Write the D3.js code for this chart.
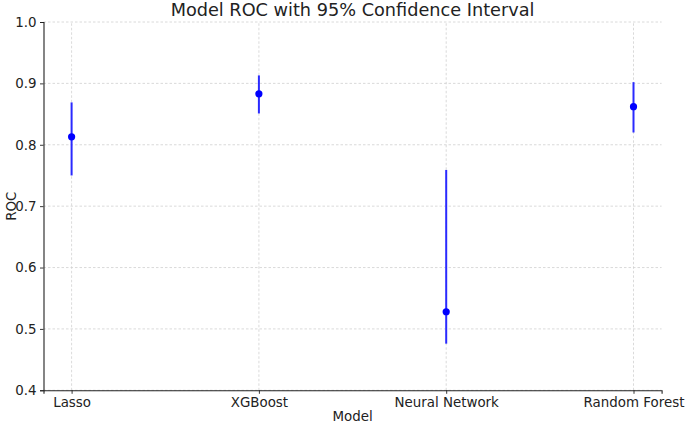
<!DOCTYPE html>
<html>
<head>
<meta charset="utf-8">
<script src="https://cdn.jsdelivr.net/npm/d3@7"></script>
<style>
html,body{margin:0;padding:0;background:#fff;}
svg{display:block;font-family:"DejaVu Sans",sans-serif;}
</style>
</head>
<body>
<svg id="chart" width="685" height="424"></svg>
<script>
const models = ["Lasso", "XGBoost", "Neural Network", "Random Forest"];
const rocValues = [0.813, 0.883, 0.528, 0.862];
const ciLower = [0.750, 0.851, 0.476, 0.820];
const ciUpper = [0.869, 0.913, 0.759, 0.902];
const yTicks = [0.4, 0.5, 0.6, 0.7, 0.8, 0.9, 1.0];

const svg = d3.select("#chart");
const margin = {left: 43.5, right: 23.4, top: 22, bottom: 33.7};
const W = 685, H = 424;
const x0 = margin.left, x1 = W - margin.right, y0 = H - margin.bottom, y1 = margin.top;

const x = d3.scaleLinear().domain([-0.15, models.length - 1 + 0.15]).range([x0, x1]);
const y = d3.scaleLinear().domain([0.4, 1.0]).range([y0, y1]);

// grid
const g = svg.append("g");
g.selectAll(".hg").data(yTicks).join("line")
  .attr("x1", x0).attr("x2", x1)
  .attr("y1", d => y(d)).attr("y2", d => y(d))
  .attr("stroke", "#d0d0d0").attr("stroke-width", 0.8).attr("stroke-dasharray", "2.5,2");
g.selectAll(".vg").data(models).join("line")
  .attr("x1", (d, i) => x(i)).attr("x2", (d, i) => x(i))
  .attr("y1", y0).attr("y2", y1)
  .attr("stroke", "#d0d0d0").attr("stroke-width", 0.8).attr("stroke-dasharray", "2.5,2");

// axes
const xAxis = d3.axisBottom(x).tickValues(d3.range(models.length))
  .tickFormat(i => models[i]).tickSizeOuter(0).tickSize(3.5).tickPadding(3.5);
const yAxis = d3.axisLeft(y).tickValues(yTicks)
  .tickFormat(d3.format(".1f")).tickSizeOuter(0).tickSize(3.5).tickPadding(3.5);

const gx = svg.append("g").attr("transform", `translate(0,${y0})`).call(xAxis);
const gy = svg.append("g").attr("transform", `translate(${x0},0)`).call(yAxis);
[gx, gy].forEach(a => {
  a.select(".domain").attr("stroke", "#222").attr("stroke-width", 1.1);
  a.selectAll(".tick line").attr("stroke", "#222").attr("stroke-width", 0.9);
  a.selectAll("text").attr("fill", "#222").attr("font-size", 13.4).attr("font-family", "DejaVu Sans");
});

// error bars
const data = models.map((m, i) => ({i, v: rocValues[i], lo: ciLower[i], hi: ciUpper[i]}));
svg.append("g").selectAll("line").data(data).join("line")
  .attr("x1", d => x(d.i)).attr("x2", d => x(d.i))
  .attr("y1", d => y(d.lo)).attr("y2", d => y(d.hi))
  .attr("stroke", "#2a2aff").attr("stroke-width", 2);
svg.append("g").selectAll("circle").data(data).join("circle")
  .attr("cx", d => x(d.i)).attr("cy", d => y(d.v)).attr("r", 3.6)
  .attr("fill", "#0000ff");

// labels
svg.append("text").attr("x", (x0 + x1) / 2).attr("y", 15.5)
  .attr("text-anchor", "middle").attr("font-size", 17.7).attr("fill", "#222")
  .text("Model ROC with 95% Confidence Interval");
svg.append("text").attr("x", (x0 + x1) / 2).attr("y", 421)
  .attr("text-anchor", "middle").attr("font-size", 13.4).attr("fill", "#222")
  .text("Model");
svg.append("text").attr("transform", `translate(15.5,${(y0 + y1) / 2}) rotate(-90)`)
  .attr("text-anchor", "middle").attr("font-size", 13.4).attr("fill", "#222")
  .text("ROC");
</script>
</body>
</html>
